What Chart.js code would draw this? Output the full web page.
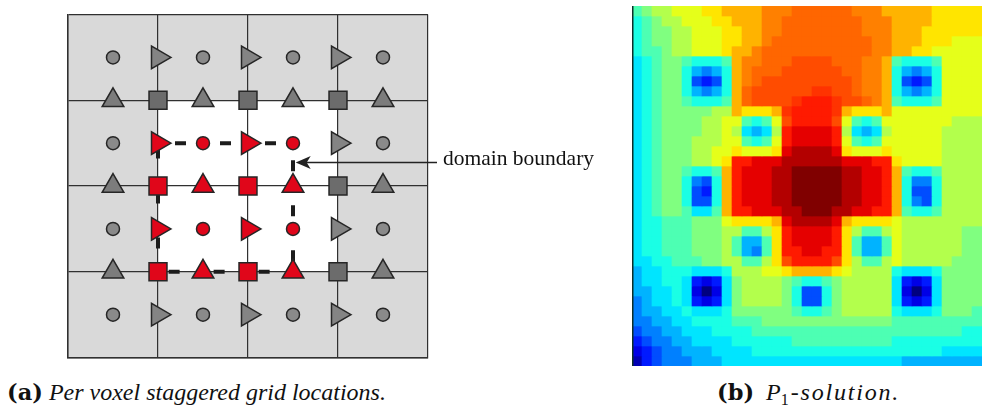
<!DOCTYPE html>
<html>
<head>
<meta charset="utf-8">
<script src="https://cdn.jsdelivr.net/npm/chart.js@4.4.0/dist/chart.umd.min.js"></script>
<style>
    html, body { margin: 0; padding: 0; background: #fff; }
    body { width: 982px; height: 416px; position: relative; overflow: hidden; }
    canvas { position: absolute; }
    #grid-chart { left: 0; top: 0; }
    #heat-chart { left: 632px; top: 6px; }
    .txt { position: absolute; white-space: nowrap; color: #111; }
    #lbl-boundary { left: 443px; top: 146px; font: 21.5px/24px "Liberation Serif", serif; }
    .cap { top: 379px; font: 24px/26px "Liberation Serif", serif; }
    .cap b { font-family: "DejaVu Serif", serif; font-size: 22.5px; }
    .cap sub { font-style: normal; font-size: 16px; vertical-align: -5px; margin-right: 2px; }
    .wide { letter-spacing: 1.8px; }
</style>
</head>
<body>
<canvas id="grid-chart" width="470" height="372"></canvas>
<canvas id="heat-chart" width="350" height="360"></canvas>
<div id="lbl-boundary" class="txt">domain boundary</div>
<div class="txt cap" style="left:7px"><b>(a)</b> <i>Per voxel staggered grid locations.</i></div>
<div class="txt cap" style="left:717px"><b>(b)</b> <i style="margin-left:6px">P</i><sub>1</sub><i class="wide">-solution.</i></div>

<script>
/* ── 左图数据：单元坐标 (x 向右, y 向下) ── */
const cellCount = 4;
const domainSpan = [1, 3];

const circlesGray = [[0.5, 0.5], [1.5, 0.5], [2.5, 0.5], [3.5, 0.5], [0.5, 1.5], [3.5, 1.5],
    [0.5, 2.5], [3.5, 2.5], [0.5, 3.5], [1.5, 3.5], [2.5, 3.5], [3.5, 3.5]];
const circlesRed = [[1.5, 1.5], [2.5, 1.5], [1.5, 2.5], [2.5, 2.5]];
const triRightGray = [[1, 0.5], [2, 0.5], [3, 0.5], [3, 1.5], [3, 2.5], [1, 3.5], [2, 3.5], [3, 3.5]];
const triRightRed = [[1, 1.5], [2, 1.5], [1, 2.5], [2, 2.5]];
const triUpGray = [[0.5, 1], [1.5, 1], [2.5, 1], [3.5, 1], [0.5, 2], [3.5, 2], [0.5, 3], [3.5, 3]];
const triUpRed = [[1.5, 2], [2.5, 2], [1.5, 3], [2.5, 3]];
const squaresGray = [[1, 1], [2, 1], [3, 1], [3, 2], [3, 3]];
const squaresRed = [[1, 2], [2, 2], [1, 3], [2, 3]];
const boundaryPath = [[1, 1.5], [2.5, 1.5], [2.5, 3], [1, 3], [1, 1.5]];
const arrowY = 1.72;
const arrowFrom = 4.1;
const arrowTo = 2.53;

/* ── 右图数据：P1 解，每个字符一个色阶 (0..k = 0..20，大写 = 半阶) ── */
const levelKeys = '0123456789abcdefghijk';
const heatRows = [
    '9abbc ccdde eeeff fFFFF FFfff eeeee ddddd',
    '89abb cccdd eeeff FFFFF FFFff feeee ddddd',
    '89aab bcccd deeff FFFFF FFFff feeed ddddd',
    '89aab bcccd deefF FFFFF FFFFf feeed ddccc',
    '899ab bcccd eefFF FFFFF FFFFf feedd ccccc',
    '789aa 98889 effFF Fgggg FFFff e9888 9cccc',
    '789aa 86568 efFFF ggggg gFFff e8656 8cccc',
    '789aa 84348 efFgg ggggg ggFff e8434 8cccc',
    '789aa 86568 eFggg gggGG ggFff e8656 8cccc',
    '789aa 98889 eFggg gGhhh GggFf e9888 9cccc',
    '789aa aaabb eddde Ghhhh Geddd ecccc ccccc',
    '789aa aabbc c989c ghhhh gc989 ccccc ccbbb',
    '789aa aabbc b767b hiiii hb767 bcccc cbbbb',
    '789aa abbbc c989c hiiii hc989 ccccc cbbbb',
    '789aa abbcc dcccd ijjjj idccc dcccc cbbbb',
    '789aa abbcd hhiii jjjjj jiiih hdccc cbbbb',
    '789aa 9889e hiiij jkkkk kjjii he988 9bbbb',
    '789aa 8548e hiiij jkkkk kjjii he855 8bbbb',
    '789aa 8438e hiiij jkkkk kjjii he844 8bbbb',
    '789aa 8448e hiiij jkkkk kjjii he854 8bbbb',
    '789aa 9779e hhiii jjkkk jjiih he988 9bbbb',
    '78899 9aaac dddde ijjjj ieddd dcbbb bbbbb',
    '78899 9aaab b99bd hiiii hdb99 bcbbb bbbaa',
    '78899 9aaab 9669d hiiii hd966 9cbbb bbbaa',
    '78899 9aaab 9659d hhiih hd966 9cbbb bbbaa',
    '77889 99aab b99bd ghhhh gdb99 bcbbb bbaaa',
    '67788 87778 bbbcc deeee dcbbb b8777 8aaaa',
    '67788 73237 abbbb a9889 abbbb b7323 7aaaa',
    '66778 72027 abbbb a8448 abbbb b7202 7aaaa',
    '56778 73237 abbbb a8448 abbbb b7323 7aaaa',
    '56677 87778 aaaaa a9889 abbbb b8777 8aaa9',
    '55667 78888 999aa aaaaa aaaaa a9999 99999',
    '45566 77788 88999 99999 99999 99999 99988',
    '34556 67777 88888 89999 99999 98888 88888',
    '23455 66677 77888 88888 88888 88888 87777',
    '13455 56667 77777 77777 77777 77666 66666',
];

/* ── 工具 ── */
const toPoints = arr => arr.map(([x, y]) => ({ x, y }));

function levelOf(ch) {
    const low = ch.toLowerCase();
    const half = ch !== low ? 0.5 : 0;
    return (levelKeys.indexOf(low) + half) / (levelKeys.length - 1);
}

function jet(v) {
    const c = t => Math.round(255 * Math.max(0, Math.min(1, 1.5 - Math.abs(4 * v - t))));
    return `rgb(${c(3)},${c(2)},${c(1)})`;
}

const RED = '#e0061a';
const EDGE = '#262626';

function markerSet(points, style, color, radius, rotation) {
    return {
        data: toPoints(points),
        pointStyle: style,
        pointRadius: radius,
        pointRotation: rotation || 0,
        pointBackgroundColor: color,
        pointBorderColor: EDGE,
        pointBorderWidth: 1.5,
        showLine: false,
        clip: false,
        order: 0,
    };
}

/* ── 左图：背景着色 + 标注箭头 ── */
const shadePlugin = {
    id: 'cellShade',
    beforeDraw(chart) {
        const { ctx, chartArea: a, scales: { x, y } } = chart;
        ctx.save();
        ctx.fillStyle = '#d9d9d9';
        ctx.fillRect(a.left, a.top, a.right - a.left, a.bottom - a.top);
        const x0 = x.getPixelForValue(domainSpan[0]), x1 = x.getPixelForValue(domainSpan[1]);
        const y0 = y.getPixelForValue(domainSpan[0]), y1 = y.getPixelForValue(domainSpan[1]);
        ctx.fillStyle = '#ffffff';
        ctx.fillRect(x0, y0, x1 - x0, y1 - y0);
        ctx.restore();
    },
};

const arrowPlugin = {
    id: 'boundaryArrow',
    afterDatasetsDraw(chart) {
        const { ctx, scales: { x, y } } = chart;
        const py = Math.round(y.getPixelForValue(arrowY)) + 0.5;
        const tip = x.getPixelForValue(arrowTo);
        const tail = x.getPixelForValue(arrowFrom);
        ctx.save();
        ctx.strokeStyle = '#222';
        ctx.lineWidth = 1.5;
        ctx.beginPath();
        ctx.moveTo(tail, py);
        ctx.lineTo(tip + 9, py);
        ctx.stroke();
        ctx.fillStyle = '#222';
        ctx.beginPath();
        ctx.moveTo(tip, py);
        ctx.lineTo(tip + 15, py - 6.5);
        ctx.lineTo(tip + 11, py);
        ctx.lineTo(tip + 15, py + 6.5);
        ctx.closePath();
        ctx.fill();
        ctx.restore();
    },
};

const axisOpts = {
    type: 'linear',
    min: 0,
    max: cellCount,
    ticks: { display: false, stepSize: 1 },
    grid: { color: '#303030', lineWidth: 1.2, drawTicks: false },
    border: { display: true, color: '#303030', width: 1.5 },
};

new Chart(document.getElementById('grid-chart'), {
    type: 'scatter',
    data: {
        datasets: [
            markerSet(circlesGray, 'circle', '#8a8a8a', 6.5),
            markerSet(circlesRed, 'circle', RED, 6.5),
            markerSet(triRightGray, 'triangle', '#848484', 13, 90),
            markerSet(triRightRed, 'triangle', RED, 13, 90),
            markerSet(triUpGray, 'triangle', '#7c7c7c', 12.5),
            markerSet(triUpRed, 'triangle', RED, 12.5),
            markerSet(squaresGray, 'rect', '#6c6c6c', 12.7),
            markerSet(squaresRed, 'rect', RED, 12.7),
            {
                data: toPoints(boundaryPath),
                showLine: true,
                pointRadius: 0,
                borderColor: '#1c1c1c',
                borderWidth: 4,
                borderDash: [11, 34],
                borderDashOffset: 28,
                borderCapStyle: 'butt',
                tension: 0,
                order: 5,
            },
        ],
    },
    options: {
        responsive: false,
        animation: false,
        events: [],
        layout: { padding: { left: 68, top: 6, right: 42, bottom: 8 } },
        plugins: { legend: { display: false }, tooltip: { enabled: false } },
        scales: {
            x: { ...axisOpts },
            y: { ...axisOpts, reverse: true },
        },
    },
    plugins: [shadePlugin, arrowPlugin],
});

/* ── 右图：热力图 (浮动柱) ── */
const heatGrid = heatRows.map(r => r.replace(/ /g, ''));
const heatCols = heatGrid[0].length;

const edgePlugin = {
    id: 'heatEdge',
    afterDraw(chart) {
        const { ctx, chartArea: a } = chart;
        ctx.save();
        ctx.strokeStyle = '#0d2f2a';
        ctx.lineWidth = 1.5;
        ctx.beginPath();
        ctx.moveTo(a.left + 0.75, a.top);
        ctx.lineTo(a.left + 0.75, a.bottom);
        ctx.stroke();
        ctx.restore();
    },
};

new Chart(document.getElementById('heat-chart'), {
    type: 'bar',
    data: {
        labels: Array.from({ length: heatCols }, (_, i) => i),
        datasets: heatGrid.map((row, r) => ({
            data: [...row].map(() => [r, r + 1]),
            backgroundColor: [...row].map(ch => jet(levelOf(ch))),
            borderWidth: 0,
            barPercentage: 1,
            categoryPercentage: 1,
            grouped: false,
        })),
    },
    options: {
        responsive: false,
        animation: false,
        events: [],
        layout: { padding: 0 },
        plugins: { legend: { display: false }, tooltip: { enabled: false } },
        scales: {
            x: { display: false },
            y: { display: false, min: 0, max: heatGrid.length, reverse: true },
        },
    },
    plugins: [edgePlugin],
});
</script>
</body>
</html>
